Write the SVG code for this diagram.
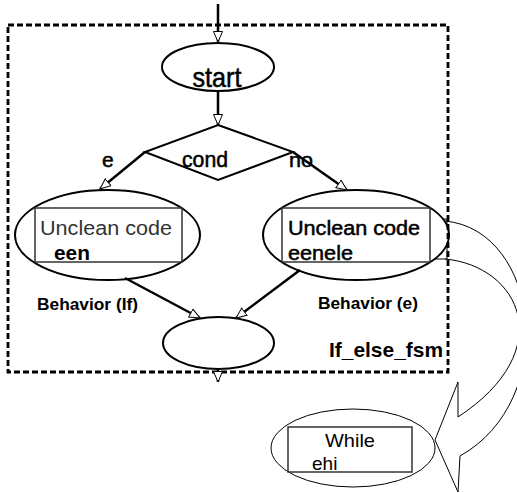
<svg xmlns="http://www.w3.org/2000/svg" width="517" height="493" viewBox="0 0 517 493">
<defs>
<style>
.ln{stroke:#000;stroke-width:2.5;fill:none}
.el{fill:#fff;stroke:#000;stroke-width:2}
.bx{fill:none;stroke:#333;stroke-width:1.5}
.thin{fill:none;stroke:#000;stroke-width:1}
text{font-family:"Liberation Sans",Arial,sans-serif;fill:#000}
.b{font-weight:bold}
.h{stroke:#000;stroke-width:0.5}
</style>
<marker id="ah" markerUnits="userSpaceOnUse" markerWidth="13" markerHeight="11" refX="11" refY="5" orient="auto">
<path d="M0.5,0.5 L11,5 L0.5,9.5 z" fill="#fff" stroke="#000" stroke-width="1"/>
</marker>
</defs>
<rect width="517" height="493" fill="#fff"/>

<g id="callout">
<rect x="435" y="219" width="12" height="40" class="thin"/>
<path class="thin" d="M445,221 C540,230 560,400 460,456 L458,492 L435,440 L458,382 L458,417 C560,350 520,266 445,259"/>
</g>

<g id="start">
<ellipse cx="218" cy="67" rx="56" ry="24" class="el"/>
<text x="217" y="87" font-size="28" class="h" text-anchor="middle" textLength="49" lengthAdjust="spacingAndGlyphs">start</text>
</g>

<g id="cond">
<polygon points="218,125 293,152 218,180 145,152" class="el" stroke-width="1.8"/>
<text x="205" y="167" font-size="21.5" class="h" text-anchor="middle" textLength="46" lengthAdjust="spacingAndGlyphs">cond</text>
</g>

<g id="if_branch">
<ellipse cx="107.5" cy="235" rx="92.5" ry="45" class="el"/>
<rect x="35" y="208" width="147" height="54" class="bx"/>
<text x="40" y="235" font-size="20" style="fill:#333" textLength="132" lengthAdjust="spacingAndGlyphs">Unclean code</text>
<text x="54" y="260" font-size="20" class="b" textLength="36" lengthAdjust="spacingAndGlyphs">een</text>
</g>

<g id="else_branch">
<ellipse cx="356" cy="235" rx="93" ry="45" class="el"/>
<rect x="282" y="208" width="148" height="54" class="bx"/>
<text x="288" y="235" font-size="20" class="h" stroke-width="0.3" textLength="132" lengthAdjust="spacingAndGlyphs">Unclean code</text>
<text x="288" y="260" font-size="20" class="h" stroke-width="0.3" textLength="65" lengthAdjust="spacingAndGlyphs">eenele</text>
</g>

<g id="end">
<ellipse cx="218.5" cy="343" rx="55.5" ry="26" class="el"/>
</g>

<g id="while">
<ellipse cx="353" cy="448" rx="82" ry="39" class="thin"/>
<rect x="288" y="427" width="124" height="45" class="bx"/>
<text x="325" y="447" font-size="19" textLength="50" lengthAdjust="spacingAndGlyphs">While</text>
<text x="312" y="470" font-size="19">ehi</text>
</g>

<g id="fsm_box">
<rect x="8" y="25" width="440" height="347" fill="none" stroke="#000" stroke-width="2.8" stroke-dasharray="6,3"/>
<text x="329" y="357" font-size="21" class="b" textLength="114" lengthAdjust="spacingAndGlyphs">If_else_fsm</text>
</g>

<g id="labels">
<text x="102" y="167" font-size="21" class="h">e</text>
<text x="289" y="167" font-size="21" class="h" textLength="24" lengthAdjust="spacingAndGlyphs">no</text>
<text x="37" y="310" font-size="16.5" class="b" textLength="101" lengthAdjust="spacingAndGlyphs">Behavior (If)</text>
<text x="318" y="309" font-size="16.5" class="b" textLength="100" lengthAdjust="spacingAndGlyphs">Behavior (e)</text>
</g>

<g id="connectors">
<line x1="218" y1="4" x2="218" y2="42" class="ln" marker-end="url(#ah)"/>
<line x1="218" y1="91" x2="218" y2="125" class="ln" marker-end="url(#ah)"/>
<line x1="145" y1="152" x2="100" y2="189" class="ln" marker-end="url(#ah)"/>
<line x1="293" y1="152" x2="347" y2="190" class="ln" marker-end="url(#ah)"/>
<line x1="125" y1="278" x2="200" y2="318" class="ln" marker-end="url(#ah)"/>
<line x1="300" y1="270" x2="236" y2="318" class="ln" marker-end="url(#ah)"/>
<line x1="218" y1="369" x2="218" y2="382" class="ln" marker-end="url(#ah)"/>
</g>
</svg>
